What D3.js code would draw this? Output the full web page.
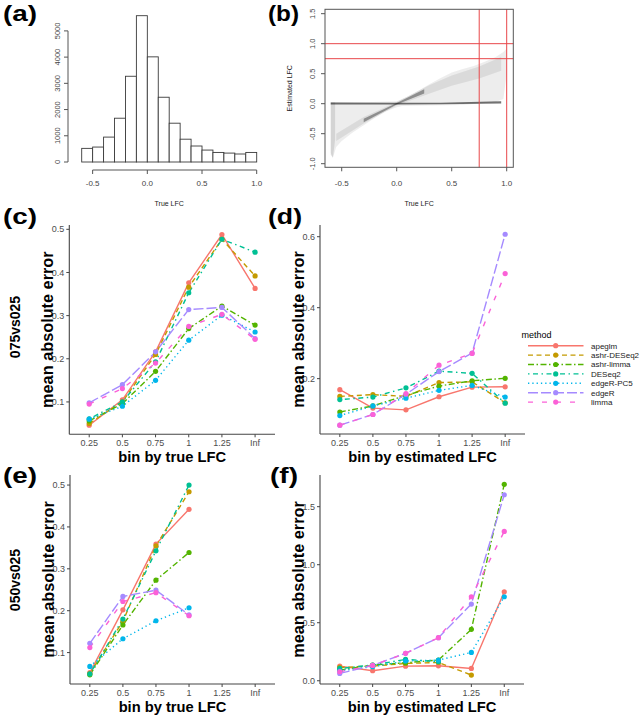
<!DOCTYPE html>
<html><head><meta charset="utf-8">
<script src="https://cdn.jsdelivr.net/npm/d3@7"></script>
<style>
body{margin:0;background:#fff}
svg{display:block}
text{font-family:"Liberation Sans",Arial,Helvetica,sans-serif}
</style>
</head><body>
<svg id="chart" width="643" height="719"></svg>
<script>
// ---------------- DATA ----------------
// (a) histogram of true LFC
const histBreaks = [-0.6,-0.5,-0.4,-0.3,-0.2,-0.1,0.0,0.1,0.2,0.3,0.4,0.5,0.6,0.7,0.8,0.9,1.0];
const histCounts = [520,570,950,1670,3270,5580,4010,2470,1480,870,610,455,365,340,305,365];
const histYTicks = [0,1000,2000,3000,4000,5000];
const lfcTicks = [-0.5,0.0,0.5,1.0];

// (b) scatter density envelopes (true LFC, estimated LFC)
const cloudOuter = [[-0.6,0.03],[-0.3,0.025],[0,0.04],[0.1,0.12],[0.2,0.22],[0.3,0.33],[0.4,0.43],[0.5,0.52],[0.6,0.58],[0.7,0.63],[0.8,0.7],[0.9,0.78],[0.97,0.86],[1.0,0.92],[1.0,0.5],[0.97,0.08],[0.9,0.03],[0.6,-0.02],[0.3,-0.03],[0.05,-0.04],[0,-0.06],[-0.1,-0.13],[-0.2,-0.24],[-0.3,-0.36],[-0.4,-0.48],[-0.5,-0.62],[-0.55,-0.72],[-0.58,-0.9],[-0.6,-0.82]];
const cloudDiag = [[-0.55,-0.5],[-0.3,-0.22],[0,0.03],[0.3,0.31],[0.5,0.47],[0.75,0.62],[0.95,0.78],[0.95,0.55],[0.75,0.42],[0.5,0.3],[0.3,0.17],[0,-0.03],[-0.3,-0.33],[-0.55,-0.62]];
const cloudCore = [[-0.3,-0.25],[0,0.012],[0.25,0.24],[0.25,0.17],[0,-0.012],[-0.3,-0.31]];
const cloudFlat = [[-0.6,0.02],[0,0.015],[0.4,0.015],[0.95,0.04],[0.95,0.005],[0.4,-0.01],[0,-0.015],[-0.6,-0.015]];
const cloudLeft = [[-0.6,0.02],[-0.56,0.02],[-0.56,-0.6],[-0.58,-0.9],[-0.6,-0.85]];
const bRefV = [0.75,1.0];
const bRefH = [0.75,1.0];
const bYTicks = [-1.0,-0.5,0.0,0.5,1.0,1.5];

// (c)-(f) mean absolute error by bin, per method
const methods = ["apeglm","ashr-DESeq2","ashr-limma","DESeq2","edgeR-PC5","edgeR","limma"];
const methodColors = ["#F8766D","#C49A00","#53B400","#00C094","#00B6EB","#A58AFF","#FB61D7"];
const methodDash = [null,"5,3.5","6,2.5,1.5,2.5","1.5,3.5,5,3.5","1.3,3","10,3","5,9"];
const bins = ["0.25","0.5","0.75","1","1.25","Inf"];
// rows: methods in order; columns: bins
const maeTrue075 = [
  [0.046,0.105,0.216,0.376,0.488,0.363],
  [0.050,0.100,0.210,0.366,0.477,0.392],
  [0.056,0.096,0.171,0.270,0.322,0.278],
  [0.061,0.100,0.193,0.353,0.477,0.447],
  [0.060,0.090,0.150,0.243,0.301,0.262],
  [0.098,0.140,0.216,0.314,0.319,0.247],
  [0.095,0.131,0.190,0.275,0.303,0.245]
];
const maeEst075 = [
  [0.169,0.117,0.112,0.149,0.176,0.177],
  [0.150,0.155,0.150,0.189,0.191,0.132],
  [0.106,0.123,0.153,0.179,0.194,0.201],
  [0.141,0.148,0.174,0.221,0.215,0.131],
  [0.096,0.123,0.145,0.167,0.181,0.148],
  [0.069,0.099,0.156,0.220,0.272,0.607],
  [0.069,0.099,0.158,0.238,0.271,0.496]
];
const maeTrue050 = [
  [0.052,0.202,0.359,0.442,null,null],
  [0.050,0.175,0.355,0.484,null,null],
  [0.047,0.166,0.273,0.339,null,null],
  [0.049,0.180,0.343,0.500,null,null],
  [0.067,0.133,0.176,0.207,null,null],
  [0.122,0.234,0.249,0.190,null,null],
  [0.112,0.222,0.243,0.188,null,null]
];
const maeEst050 = [
  [0.126,0.086,0.126,0.129,0.106,0.767],
  [0.115,0.126,0.149,0.158,0.049,null],
  [0.092,0.135,0.155,0.178,0.443,1.693],
  [0.106,0.135,0.184,0.164,null,null],
  [0.086,0.121,0.170,0.178,0.244,0.724],
  [0.063,0.132,0.236,0.371,0.661,1.603],
  [0.078,0.132,0.236,0.371,0.724,1.287]
];
const ticksC = [0.1,0.2,0.3,0.4,0.5];
const ticksD = [0.2,0.4,0.6];
const ticksE = [0.1,0.2,0.3,0.4,0.5];
const ticksF = [0.0,0.5,1.0,1.5];

// ---------------- DRAW ----------------
const svg = d3.select("#chart");

function panelLabel(t, x, y, w){
  svg.append("text").attr("x",x).attr("y",y).text(t)
    .attr("font-size",22).attr("font-weight","bold").attr("fill","#000")
    .attr("textLength",w).attr("lengthAdjust","spacingAndGlyphs");
}

// ---- (a) histogram ----
{
  const g = svg.append("g");
  const x = d3.scaleLinear().domain([-0.6,1.0]).range([81.7,256.7]);
  const y = d3.scaleLinear().domain([0,5000]).range([162,30.9]);
  g.selectAll("rect").data(histCounts).join("rect")
    .attr("x",(d,i)=>x(histBreaks[i])).attr("width",(d,i)=>x(histBreaks[i+1])-x(histBreaks[i]))
    .attr("y",d=>y(d)).attr("height",d=>y(0)-y(d))
    .attr("fill","#fff").attr("stroke","#3a3a3a").attr("stroke-width",0.9);
  const axY = 170;
  g.append("line").attr("x1",x(lfcTicks[0])).attr("x2",x(lfcTicks[lfcTicks.length-1]))
    .attr("y1",axY).attr("y2",axY).attr("stroke","#555");
  lfcTicks.forEach(v=>{
    g.append("line").attr("x1",x(v)).attr("x2",x(v)).attr("y1",axY).attr("y2",axY+4).attr("stroke","#555");
    g.append("text").attr("x",x(v)).attr("y",186).attr("text-anchor","middle")
      .attr("font-size",8).attr("fill","#444").text(v.toFixed(1));
  });
  const axX = 68;
  g.append("line").attr("x1",axX).attr("x2",axX).attr("y1",y(0)).attr("y2",y(5000)).attr("stroke","#555");
  histYTicks.forEach(v=>{
    g.append("line").attr("x1",axX-4).attr("x2",axX).attr("y1",y(v)).attr("y2",y(v)).attr("stroke","#555");
    g.append("text").attr("transform",`translate(${axX-8},${y(v)}) rotate(-90)`)
      .attr("text-anchor","middle").attr("font-size",7.5).attr("fill","#444").text(String(v));
  });
  g.append("text").attr("x",(x(-0.6)+x(1.0))/2).attr("y",205.5).attr("text-anchor","middle")
    .attr("font-size",7).attr("fill","#222").text("True LFC");
}

// ---- (b) scatter ----
{
  const g = svg.append("g");
  const L=325, R=513.3, T=9.3, B=167.3;
  const x = d3.scaleLinear().domain([-0.652,1.06]).range([L,R]);
  const y = d3.scaleLinear().domain([-1.06,1.573]).range([B,T]);
  const line = d3.line().x(d=>x(d[0])).y(d=>y(d[1])).curve(d3.curveLinearClosed);
  const layers = [[cloudOuter,0.07],[cloudLeft,0.1],[cloudDiag,0.08],[cloudCore,0.35],[cloudFlat,0.55]];
  layers.forEach(([pts,op])=>{
    g.append("path").attr("d",line(pts)).attr("fill","#000").attr("fill-opacity",op);
  });
  bRefV.forEach(v=>g.append("line").attr("x1",x(v)).attr("x2",x(v)).attr("y1",T).attr("y2",B)
    .attr("stroke","#e8474a").attr("stroke-width",1));
  bRefH.forEach(v=>g.append("line").attr("x1",L).attr("x2",R).attr("y1",y(v)).attr("y2",y(v))
    .attr("stroke","#e8474a").attr("stroke-width",1));
  g.append("rect").attr("x",L).attr("y",T).attr("width",R-L).attr("height",B-T)
    .attr("fill","none").attr("stroke","#555");
  lfcTicks.forEach(v=>{
    g.append("line").attr("x1",x(v)).attr("x2",x(v)).attr("y1",B).attr("y2",B+4).attr("stroke","#555");
    g.append("text").attr("x",x(v)).attr("y",186).attr("text-anchor","middle")
      .attr("font-size",8).attr("fill","#444").text(v.toFixed(1));
  });
  bYTicks.forEach(v=>{
    g.append("line").attr("x1",L-4).attr("x2",L).attr("y1",y(v)).attr("y2",y(v)).attr("stroke","#555");
    g.append("text").attr("transform",`translate(${L-10},${y(v)}) rotate(-90)`)
      .attr("text-anchor","middle").attr("font-size",7.5).attr("fill","#444").text(v.toFixed(1));
  });
  g.append("text").attr("x",(L+R)/2).attr("y",205.5).attr("text-anchor","middle")
    .attr("font-size",7).attr("fill","#222").text("True LFC");
  g.append("text").attr("transform",`translate(${L-33},${(T+B)/2}) rotate(-90)`)
    .attr("text-anchor","middle").attr("font-size",7).attr("fill","#222").text("Estimated LFC");
}

// ---- (c)-(f) ggplot panels ----
function drawPanel(cfg){
  const g = svg.append("g");
  const {L,R,T,B} = cfg;
  const x = d3.scalePoint().domain(bins).range([L,R]).padding(0.6);
  const y = d3.scaleLinear().domain(cfg.yDomain).range([B,T]);
  g.append("line").attr("x1",L).attr("x2",L).attr("y1",T).attr("y2",B).attr("stroke","#444").attr("stroke-width",1.1);
  g.append("line").attr("x1",L).attr("x2",R).attr("y1",B).attr("y2",B).attr("stroke","#444").attr("stroke-width",1.1);
  cfg.yTicks.forEach(v=>{
    g.append("line").attr("x1",L-3).attr("x2",L).attr("y1",y(v)).attr("y2",y(v)).attr("stroke","#444");
    g.append("text").attr("x",L-5).attr("y",y(v)).attr("dy","0.35em").attr("text-anchor","end")
      .attr("font-size",9).attr("fill","#4D4D4D").text(v.toFixed(1));
  });
  bins.forEach(b=>{
    g.append("line").attr("x1",x(b)).attr("x2",x(b)).attr("y1",B).attr("y2",B+3).attr("stroke","#444");
    g.append("text").attr("x",x(b)).attr("y",B+9).attr("dy","0.35em").attr("text-anchor","middle")
      .attr("font-size",9).attr("fill","#4D4D4D").text(b);
  });
  g.append("text").attr("x",(L+R)/2).attr("y",B+23).attr("dy","0.35em").attr("text-anchor","middle")
    .attr("font-size",14.7).attr("font-weight","bold").attr("fill","#000").text(cfg.xTitle);
  g.append("text").attr("transform",`translate(${L-22},${(T+B)/2}) rotate(-90)`).attr("dy","0.35em")
    .attr("text-anchor","middle").attr("font-size",16.3).attr("font-weight","bold").attr("fill","#000")
    .text("mean absolute error");
  const line = d3.line().defined(d=>d.v!=null).x(d=>x(d.b)).y(d=>y(d.v));
  cfg.data.forEach((row,i)=>{
    const pts = row.map((v,j)=>({b:bins[j],v}));
    const p = g.append("path").attr("d",line(pts)).attr("fill","none")
      .attr("stroke",methodColors[i]).attr("stroke-width",1.4);
    if(methodDash[i]) p.attr("stroke-dasharray",methodDash[i]);
  });
  cfg.data.forEach((row,i)=>{
    g.selectAll(null).data(row.map((v,j)=>({b:bins[j],v})).filter(d=>d.v!=null)).join("circle")
      .attr("cx",d=>x(d.b)).attr("cy",d=>y(d.v)).attr("r",2.6).attr("fill",methodColors[i]);
  });
}

drawPanel({L:69.3,R:275,T:225,B:434.3,yDomain:[0.025,0.51],yTicks:ticksC,data:maeTrue075,xTitle:"bin by true LFC"});
drawPanel({L:320,R:525,T:225,B:434,yDomain:[0.044,0.633],yTicks:ticksD,data:maeEst075,xTitle:"bin by estimated LFC"});
drawPanel({L:70,R:275,T:475,B:684,yDomain:[0.025,0.524],yTicks:ticksE,data:maeTrue050,xTitle:"bin by true LFC"});
drawPanel({L:320,R:524,T:475,B:684,yDomain:[-0.028,1.773],yTicks:ticksF,data:maeEst050,xTitle:"bin by estimated LFC"});

// row labels
[["075vs025",327],["050vs025",580]].forEach(([t,cy])=>{
  svg.append("text").attr("transform",`translate(15,${cy}) rotate(-90)`).attr("dy","0.35em")
    .attr("text-anchor","middle").attr("font-size",14).attr("font-weight","bold").attr("fill","#000").text(t);
});

// legend
{
  const g = svg.append("g");
  g.append("text").attr("x",521.5).attr("y",335).attr("dy","0.35em").attr("font-size",9).attr("fill","#000").text("method");
  methods.forEach((m,i)=>{
    const yy = 345.7 + i*9.4;
    const l = g.append("line").attr("x1",528).attr("x2",583.5).attr("y1",yy).attr("y2",yy)
      .attr("stroke",methodColors[i]).attr("stroke-width",1.4);
    if(methodDash[i]) l.attr("stroke-dasharray",methodDash[i]);
    g.append("circle").attr("cx",555.7).attr("cy",yy).attr("r",2.6).attr("fill",methodColors[i]);
    g.append("text").attr("x",591).attr("y",yy).attr("dy","0.35em").attr("font-size",8).attr("fill","#222").text(m);
  });
}

// panel labels
panelLabel("(a)",3,21,34);
panelLabel("(b)",268,21,31);
panelLabel("(c)",3,224,34);
panelLabel("(d)",268,224,34);
panelLabel("(e)",3,483,34);
panelLabel("(f)",270,483,28);
</script>
</body></html>
